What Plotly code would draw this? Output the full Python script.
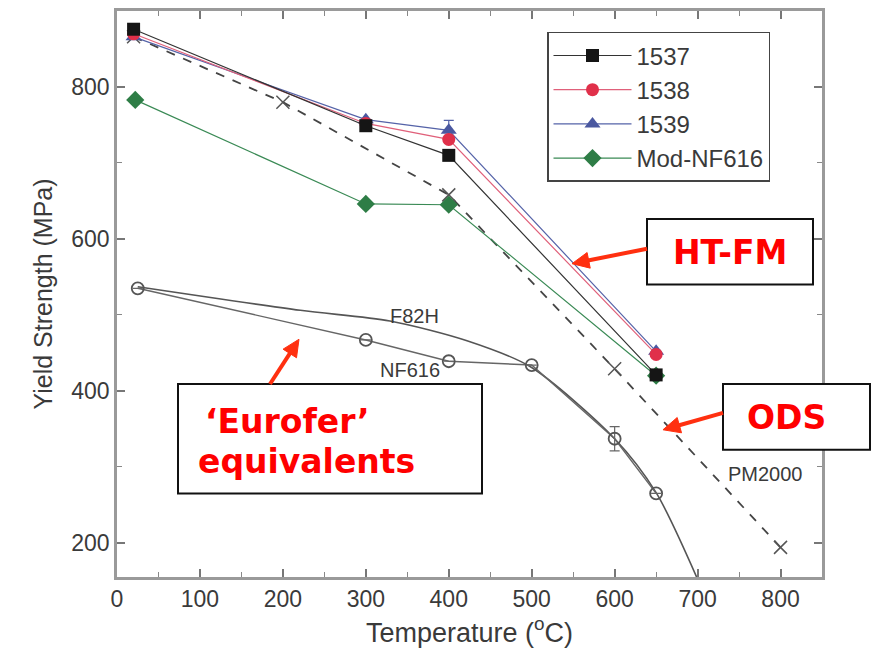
import math
import plotly.graph_objects as go

# ---- data ----
temp_htfm = [20, 300, 400, 650]
ys_1537 = [876, 749, 710, 421]
ys_1538 = [870, 752, 731, 448]
ys_1539 = [866, 757, 743, 452]
err_1539 = [0, 0, 13, 0]
temp_modnf = [22, 300, 400, 650]
ys_modnf = [783, 646, 645, 420]

temp_pm2000 = [20, 200, 400, 600, 800]
ys_pm2000 = [866, 780, 658, 429, 194]

temp_nf616 = [25, 300, 400, 500, 600, 650]
ys_nf616 = [535, 467, 439, 434, 337, 265]
err_nf616 = [0, 0, 0, 0, 16, 0]

temp_f82h = [25, 221, 329, 422, 498, 600, 650, 700]
ys_f82h = [537, 506, 492, 466, 432, 337, 266, 152]

x_ticks = [0, 100, 200, 300, 400, 500, 600, 700, 800]
y_ticks = [200, 400, 600, 800]

TXT = "#3a3a3a"
FONT = "Liberation Sans, Arial, sans-serif"

fig = go.Figure()

# Eurofer equivalents
fig.add_trace(go.Scatter(x=temp_f82h, y=ys_f82h, mode="lines", line=dict(color="#555", width=1.6, shape="spline", smoothing=0.8),
                         showlegend=False, hoverinfo="skip"))
fig.add_trace(go.Scatter(x=temp_nf616, y=ys_nf616, mode="lines+markers",
                         line=dict(color="#666", width=1.4),
                         marker=dict(symbol="circle-open", size=12, color="#555", line=dict(width=1.8)),
                         error_y=dict(type="data", array=err_nf616, color="#666", thickness=1.2, width=5),
                         showlegend=False, hoverinfo="skip"))
# ODS
fig.add_trace(go.Scatter(x=temp_pm2000, y=ys_pm2000, mode="lines+markers",
                         line=dict(color="#444", width=1.8, dash="dash"),
                         marker=dict(symbol="x-thin", size=13, line=dict(width=1.5, color="#555")),
                         showlegend=False, hoverinfo="skip"))

# HT-FM (draw order: green, blue, red, black on top)
fig.add_trace(go.Scatter(x=temp_modnf, y=ys_modnf, name="Mod-NF616", mode="lines+markers", legendrank=4,
                         line=dict(color="#3a8a55", width=1.2),
                         marker=dict(symbol="diamond", size=14, color="#2e7d46")))
fig.add_trace(go.Scatter(x=temp_htfm, y=ys_1539, name="1539", mode="lines+markers", legendrank=3,
                         line=dict(color="#5563a8", width=1.2),
                         marker=dict(symbol="triangle-up", size=14, color="#4a58a0"),
                         error_y=dict(type="data", array=err_1539, color="#5563a8", thickness=1.2, width=5)))
fig.add_trace(go.Scatter(x=temp_htfm, y=ys_1538, name="1538", mode="lines+markers", legendrank=2,
                         line=dict(color="#e0607a", width=1.2),
                         marker=dict(symbol="circle", size=13, color="#e0304a")))
fig.add_trace(go.Scatter(x=temp_htfm, y=ys_1537, name="1537", mode="lines+markers", legendrank=1,
                         line=dict(color="#333", width=1.2),
                         marker=dict(symbol="square", size=13, color="#151515")))

# curve labels
for txt, xx, yy in [("F82H", 359, 498), ("NF616", 353, 428), ("PM2000", 782, 290)]:
    fig.add_annotation(x=xx, y=yy, text=txt, showarrow=False, xanchor="center", yanchor="middle",
                       font=dict(family=FONT, size=20, color=TXT))

# ---- boxed callouts ----
def px2paper(px, py):
    return (px - 117) / 705.0, (577 - py) / 569.0

boxes = [(647, 217, 813, 283), (723, 383, 870, 449), (178, 383, 482, 493)]
for (a, b, c, d) in boxes:
    x0, y1 = px2paper(a, b)
    x1, y0 = px2paper(c, d)
    fig.add_shape(type="rect", xref="paper", yref="paper", x0=x0, x1=x1, y0=y0, y1=y1,
                  line=dict(color="#111", width=2), fillcolor="white", layer="above")

RED = "#ff0000"
BOLD = "DejaVu Sans, Verdana, sans-serif"
for txt, px, py in [("HT-FM", 730, 251), ("ODS", 786, 417), ("\u2018Eurofer\u2019", 287, 421), ("equivalents", 306, 461)]:
    xx, yy = px2paper(px, py)
    fig.add_annotation(xref="paper", yref="paper", x=xx, y=yy, text="<b>%s</b>" % txt, showarrow=False,
                       xanchor="center", yanchor="middle",
                       font=dict(family=BOLD, size=33, color=RED))

# arrows (drawn as shapes: shaft + filled head)
ARROW = "#ff3010"
for tip, tail in [((572, 262), (647, 247)), ((663, 429), (723, 412)), ((299, 338), (270, 383))]:
    dx, dy = tip[0] - tail[0], tip[1] - tail[1]
    n = math.hypot(dx, dy)
    ux, uy = dx / n, dy / n
    L, W = 17.0, 8.0
    bx, by = tip[0] - ux * L, tip[1] - uy * L
    p1 = px2paper(*tip)
    p2 = px2paper(bx - uy * W, by + ux * W)
    p3 = px2paper(bx + uy * W, by - ux * W)
    t0 = px2paper(*tail)
    b0 = px2paper(bx + ux * 2, by + uy * 2)
    fig.add_shape(type="line", xref="paper", yref="paper", x0=t0[0], y0=t0[1], x1=b0[0], y1=b0[1],
                  line=dict(color=ARROW, width=4), layer="above")
    fig.add_shape(type="path", xref="paper", yref="paper",
                  path="M %f %f L %f %f L %f %f Z" % (p1[0], p1[1], p2[0], p2[1], p3[0], p3[1]),
                  fillcolor=ARROW, line=dict(color=ARROW, width=1), layer="above")

axis_common = dict(showline=True, linecolor="#9a9a9a", linewidth=2.5, mirror="ticks", ticks="inside",
                   ticklen=8, tickwidth=1.5, tickcolor="#777", showgrid=False, zeroline=False,
                   tickfont=dict(family=FONT, size=23, color=TXT))

fig.update_xaxes(range=[0, 850], tickvals=x_ticks, ticktext=[str(v) for v in x_ticks],
                 minor=dict(dtick=50, ticks="inside", ticklen=5, tickcolor="#888", tickwidth=1.2),
                 title=dict(text="Temperature (<sup>o</sup>C)", font=dict(family=FONT, size=27, color=TXT), standoff=12),
                 **axis_common)
fig.update_yaxes(range=[155, 900], tickvals=y_ticks, ticktext=[str(v) for v in y_ticks],
                 minor=dict(dtick=100, tick0=0, ticks="inside", ticklen=5, tickcolor="#888", tickwidth=1.2),
                 title=dict(text="Yield Strength (MPa)", font=dict(family=FONT, size=25, color=TXT), standoff=12),
                 **axis_common)

fig.update_layout(width=875, height=664, margin=dict(l=117, r=53, t=8, b=87),
                  paper_bgcolor="white", plot_bgcolor="white",
                  legend=dict(x=(547 - 117) / 705.0, y=(577 - 29) / 569.0, xanchor="left", yanchor="top",
                              bordercolor="#444", borderwidth=1.5, bgcolor="white",
                              font=dict(family=FONT, size=24, color=TXT), itemwidth=78,
                              tracegroupgap=0))

fig.write_html("out.html")
